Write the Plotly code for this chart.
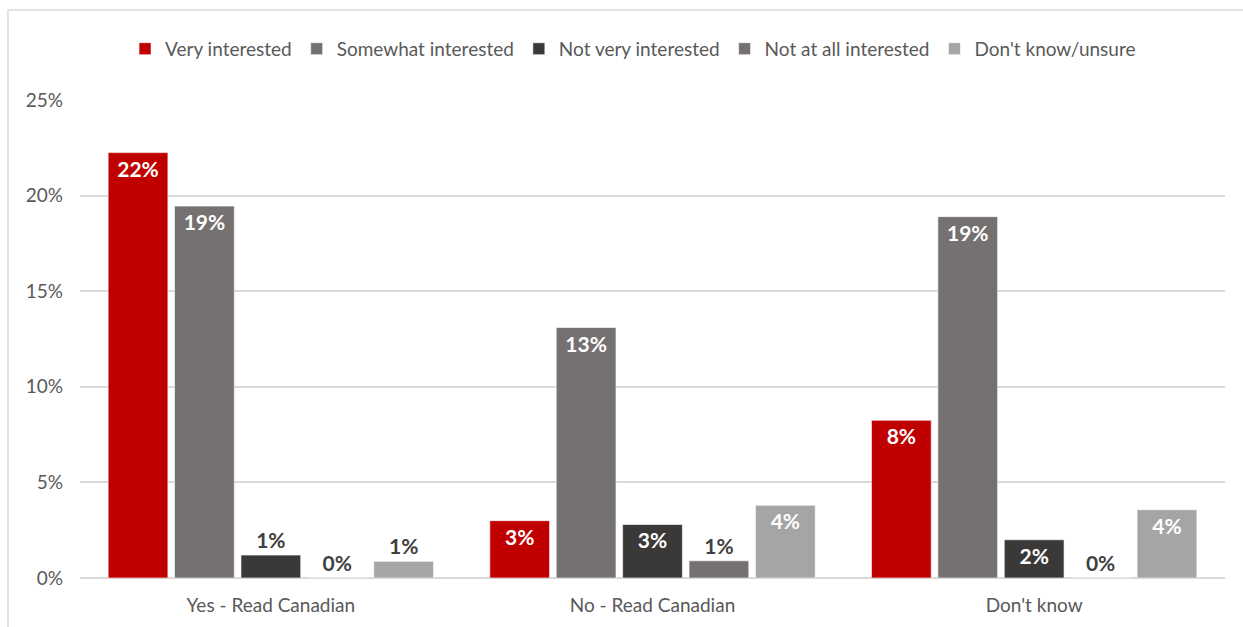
import plotly.graph_objects as go

categories = ["Yes - Read Canadian", "No - Read Canadian", "Don't know"]
series_names = ["Very interested", "Somewhat interested", "Not very interested",
                "Not at all interested", "Don't know/unsure"]
very_interested = [22.25, 3.0, 8.25]
somewhat_interested = [19.45, 13.1, 18.9]
not_very_interested = [1.2, 2.8, 2.0]
not_at_all_interested = [0.0, 0.9, 0.0]
dont_know_unsure = [0.87, 3.8, 3.57]
series_values = [very_interested, somewhat_interested, not_very_interested,
                 not_at_all_interested, dont_know_unsure]
colors = ["#C00000", "#767171", "#3B3838", "#767171", "#A5A5A5"]
y_ticks = [0, 5, 10, 15, 20, 25]
y_tick_labels = [f"{t}%" for t in y_ticks]

FONT = "Lato"
fig = go.Figure()
for name, vals, col in zip(series_names, series_values, colors):
    pos = ["inside" if v >= 1.5 else "outside" for v in vals]
    tcol = ["#FFFFFF" if v >= 1.5 else "#404040" for v in vals]
    fig.add_trace(go.Bar(
        name=name, x=categories, y=vals,
        marker=dict(color=col, line=dict(color="rgba(255,255,255,0.6)", width=1)),
        texttemplate="%{y:.0f}%", textposition=pos,
        insidetextanchor="end", constraintext="none", cliponaxis=False,
        textfont=dict(family=FONT, size=21, color=tcol, weight="bold"),
        hoverinfo="skip",
    ))

fig.update_layout(
    width=1243, height=627,
    margin=dict(l=80, r=18, t=100, b=49),
    paper_bgcolor="white", plot_bgcolor="white",
    barmode="group", bargap=0.13, bargroupgap=0.1,
    font=dict(family=FONT, color="#595959", size=19),
    legend=dict(orientation="h", x=0.483, xanchor="center", y=1.107, yanchor="middle",
                font=dict(size=19, color="#595959"), itemwidth=30,
                traceorder="normal"),
    showlegend=True,
)
fig.update_yaxes(range=[0, 25], tickmode="array", tickvals=y_ticks, ticktext=y_tick_labels,
                 showgrid=True, gridcolor="#D9D9D9", gridwidth=1.5,
                 zeroline=True, zerolinecolor="#D9D9D9", zerolinewidth=2,
                 showline=False, ticks="", ticklabelstandoff=16,
                 tickfont=dict(size=19, color="#595959"))
fig.update_xaxes(showline=False, ticks="", ticklabelstandoff=14,
                 tickfont=dict(size=19, color="#595959"))
fig.add_shape(type="rect", xref="paper", yref="paper",
              x0=(8 - 80) / 1145, x1=(1260 - 80) / 1145,
              y0=(578 - 650) / 478, y1=(578 - 10) / 478,
              line=dict(color="#D9D9D9", width=1.5), fillcolor="rgba(0,0,0,0)", layer="below")

fig.write_html("out.html")
